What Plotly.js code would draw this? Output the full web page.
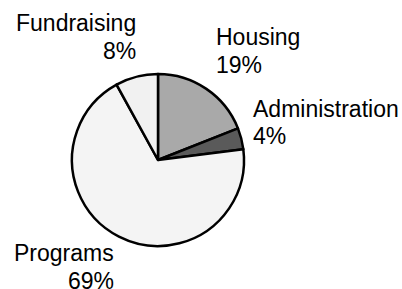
<!DOCTYPE html>
<html>
<head>
<meta charset="utf-8">
<script src="https://cdn.plot.ly/plotly-3.0.1.min.js"></script>
<style>html,body{margin:0;padding:0;background:#fff;}#chart{width:402px;height:289px;}</style>
</head>
<body>
<div id="chart"></div>
<script>
var categories = ["Housing", "Administration", "Programs", "Fundraising"];
var shares = [19, 4, 69, 8];
var sliceColors = ["#a9a9a9", "#5a5a5a", "#f4f4f4", "#f1f1f1"];

var W = 402, H = 289;
var cx = 158, cy = 160, r = 86;

// label layout: x edge, y centre of name line, y centre of percent line
var labelPos = [
  {x: 214, y1: 37, y2: 64.5, anchor: "left"},
  {x: 251, y1: 109, y2: 136, anchor: "left"},
  {x: 115.5, y1: 253, y2: 280.5, anchor: "right"},
  {x: 138, y1: 23, y2: 51, anchor: "right"}
];

var fontSpec = {family: "Liberation Sans, Arial, sans-serif", size: 23, color: "#000"};
var annotations = [];
categories.forEach(function (c, i) {
  var p = labelPos[i];
  [[c, p.y1], [shares[i] + "%", p.y2]].forEach(function (t) {
    annotations.push({
      xref: "paper", yref: "paper",
      x: p.x / W, y: 1 - t[1] / H,
      xanchor: p.anchor, yanchor: "middle",
      align: p.anchor,
      showarrow: false,
      text: t[0],
      font: fontSpec
    });
  });
});

var trace = {
  type: "pie",
  labels: categories,
  values: shares,
  sort: false,
  direction: "clockwise",
  rotation: 0,
  textinfo: "none",
  hoverinfo: "label+percent",
  marker: {colors: sliceColors, line: {color: "#000", width: 2.5}},
  domain: {x: [(cx - r) / W, (cx + r) / W], y: [(H - cy - r) / H, (H - cy + r) / H]}
};

Plotly.newPlot("chart", [trace], {
  width: W, height: H,
  margin: {l: 0, r: 0, t: 0, b: 0},
  paper_bgcolor: "#fff",
  showlegend: false,
  annotations: annotations
}, {displayModeBar: false, staticPlot: true});
</script>
</body>
</html>
